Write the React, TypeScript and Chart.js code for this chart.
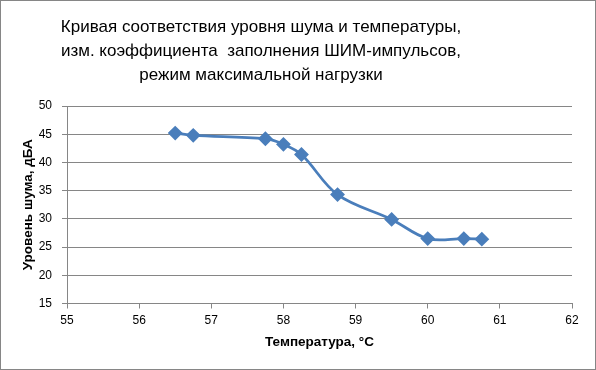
import React, { useEffect, useRef } from "react";
import { Chart, registerables } from "chart.js";

Chart.register(...registerables);

const titleLines = [
  "Кривая соответствия уровня шума и температуры,",
  "изм. коэффициента  заполнения ШИМ-импульсов,",
  "режим максимальной нагрузки",
];
const xTitle = "Температура, °C";
const yTitle = "Уровень шума, дБА";
const temperatures = [56.5, 56.75, 57.75, 58, 58.25, 58.75, 59.5, 60, 60.5, 60.75];
const noiseLevels = [45.2, 44.8, 44.2, 43.2, 41.4, 34.3, 29.9, 26.5, 26.5, 26.4];

const FONT = "'Liberation Sans', Arial, sans-serif";

export default function App() {
  const ref = useRef<HTMLCanvasElement | null>(null);
  useEffect(() => {
    if (!ref.current) return;
    const titlePlugin = {
      id: "customTitle",
      afterDraw(chart: any) {
        const ctx = chart.ctx;
        ctx.save();
        ctx.fillStyle = "#000";
        ctx.font = "17px " + FONT;
        ctx.textAlign = "center";
        ctx.textBaseline = "alphabetic";
        titleLines.forEach((l, i) => ctx.fillText(l, 261, 32 + i * 24));
        ctx.strokeStyle = "#868686";
        ctx.lineWidth = 1;
        ctx.strokeRect(0.5, 0.5, chart.width - 1, chart.height - 1);
        ctx.restore();
      },
    };
    const chart = new Chart(ref.current, {
      type: "scatter",
      data: {
        datasets: [
          {
            data: temperatures.map((t, i) => ({ x: t, y: noiseLevels[i] })),
            showLine: true,
            borderColor: "#4A7EBB",
            backgroundColor: "#4A7EBB",
            borderWidth: 2.75,
            tension: 0.35,
            pointStyle: "rectRot",
            pointRadius: 5.5,
            pointHoverRadius: 5.5,
          },
        ],
      },
      options: {
        animation: false,
        responsive: false,
        devicePixelRatio: 1,
        layout: { padding: { top: 106, right: 24, left: 0, bottom: 0 } },
        plugins: { legend: { display: false }, tooltip: { enabled: false }, title: { display: false } },
        scales: {
          x: {
            type: "linear",
            min: 55,
            max: 62,
            ticks: { stepSize: 1, color: "#000", font: { family: FONT, size: 12 }, padding: 5 },
            grid: { drawOnChartArea: false, drawTicks: true, tickLength: 5, color: "#868686" },
            border: { display: true, color: "#868686", width: 1 },
            title: {
              display: true,
              text: xTitle,
              color: "#000",
              font: { family: FONT, size: 13.5, weight: "bold" },
              padding: { top: 0, bottom: 20 },
            },
            afterFit: (s: any) => {
              s.height = 370 - 303.5;
            },
          },
          y: {
            min: 15,
            max: 50,
            ticks: { stepSize: 5, color: "#000", font: { family: FONT, size: 12 }, padding: 10 },
            grid: { drawOnChartArea: true, drawTicks: true, tickLength: 5, color: "#868686" },
            border: { display: true, color: "#868686", width: 1 },
            title: {
              display: true,
              text: yTitle,
              color: "#000",
              font: { family: FONT, size: 13.5, weight: "bold" },
              padding: { top: 20, bottom: 0 },
            },
            afterFit: (s: any) => {
              s.width = 67;
            },
          },
        },
      },
      plugins: [titlePlugin],
    });
    return () => chart.destroy();
  }, []);
  return (
    <div style={{ position: "fixed", left: 0, top: 0, width: 596, height: 370, background: "#fff" }}>
      <canvas ref={ref} width={596} height={370} style={{ width: 596, height: 370, display: "block" }} />
    </div>
  );
}
